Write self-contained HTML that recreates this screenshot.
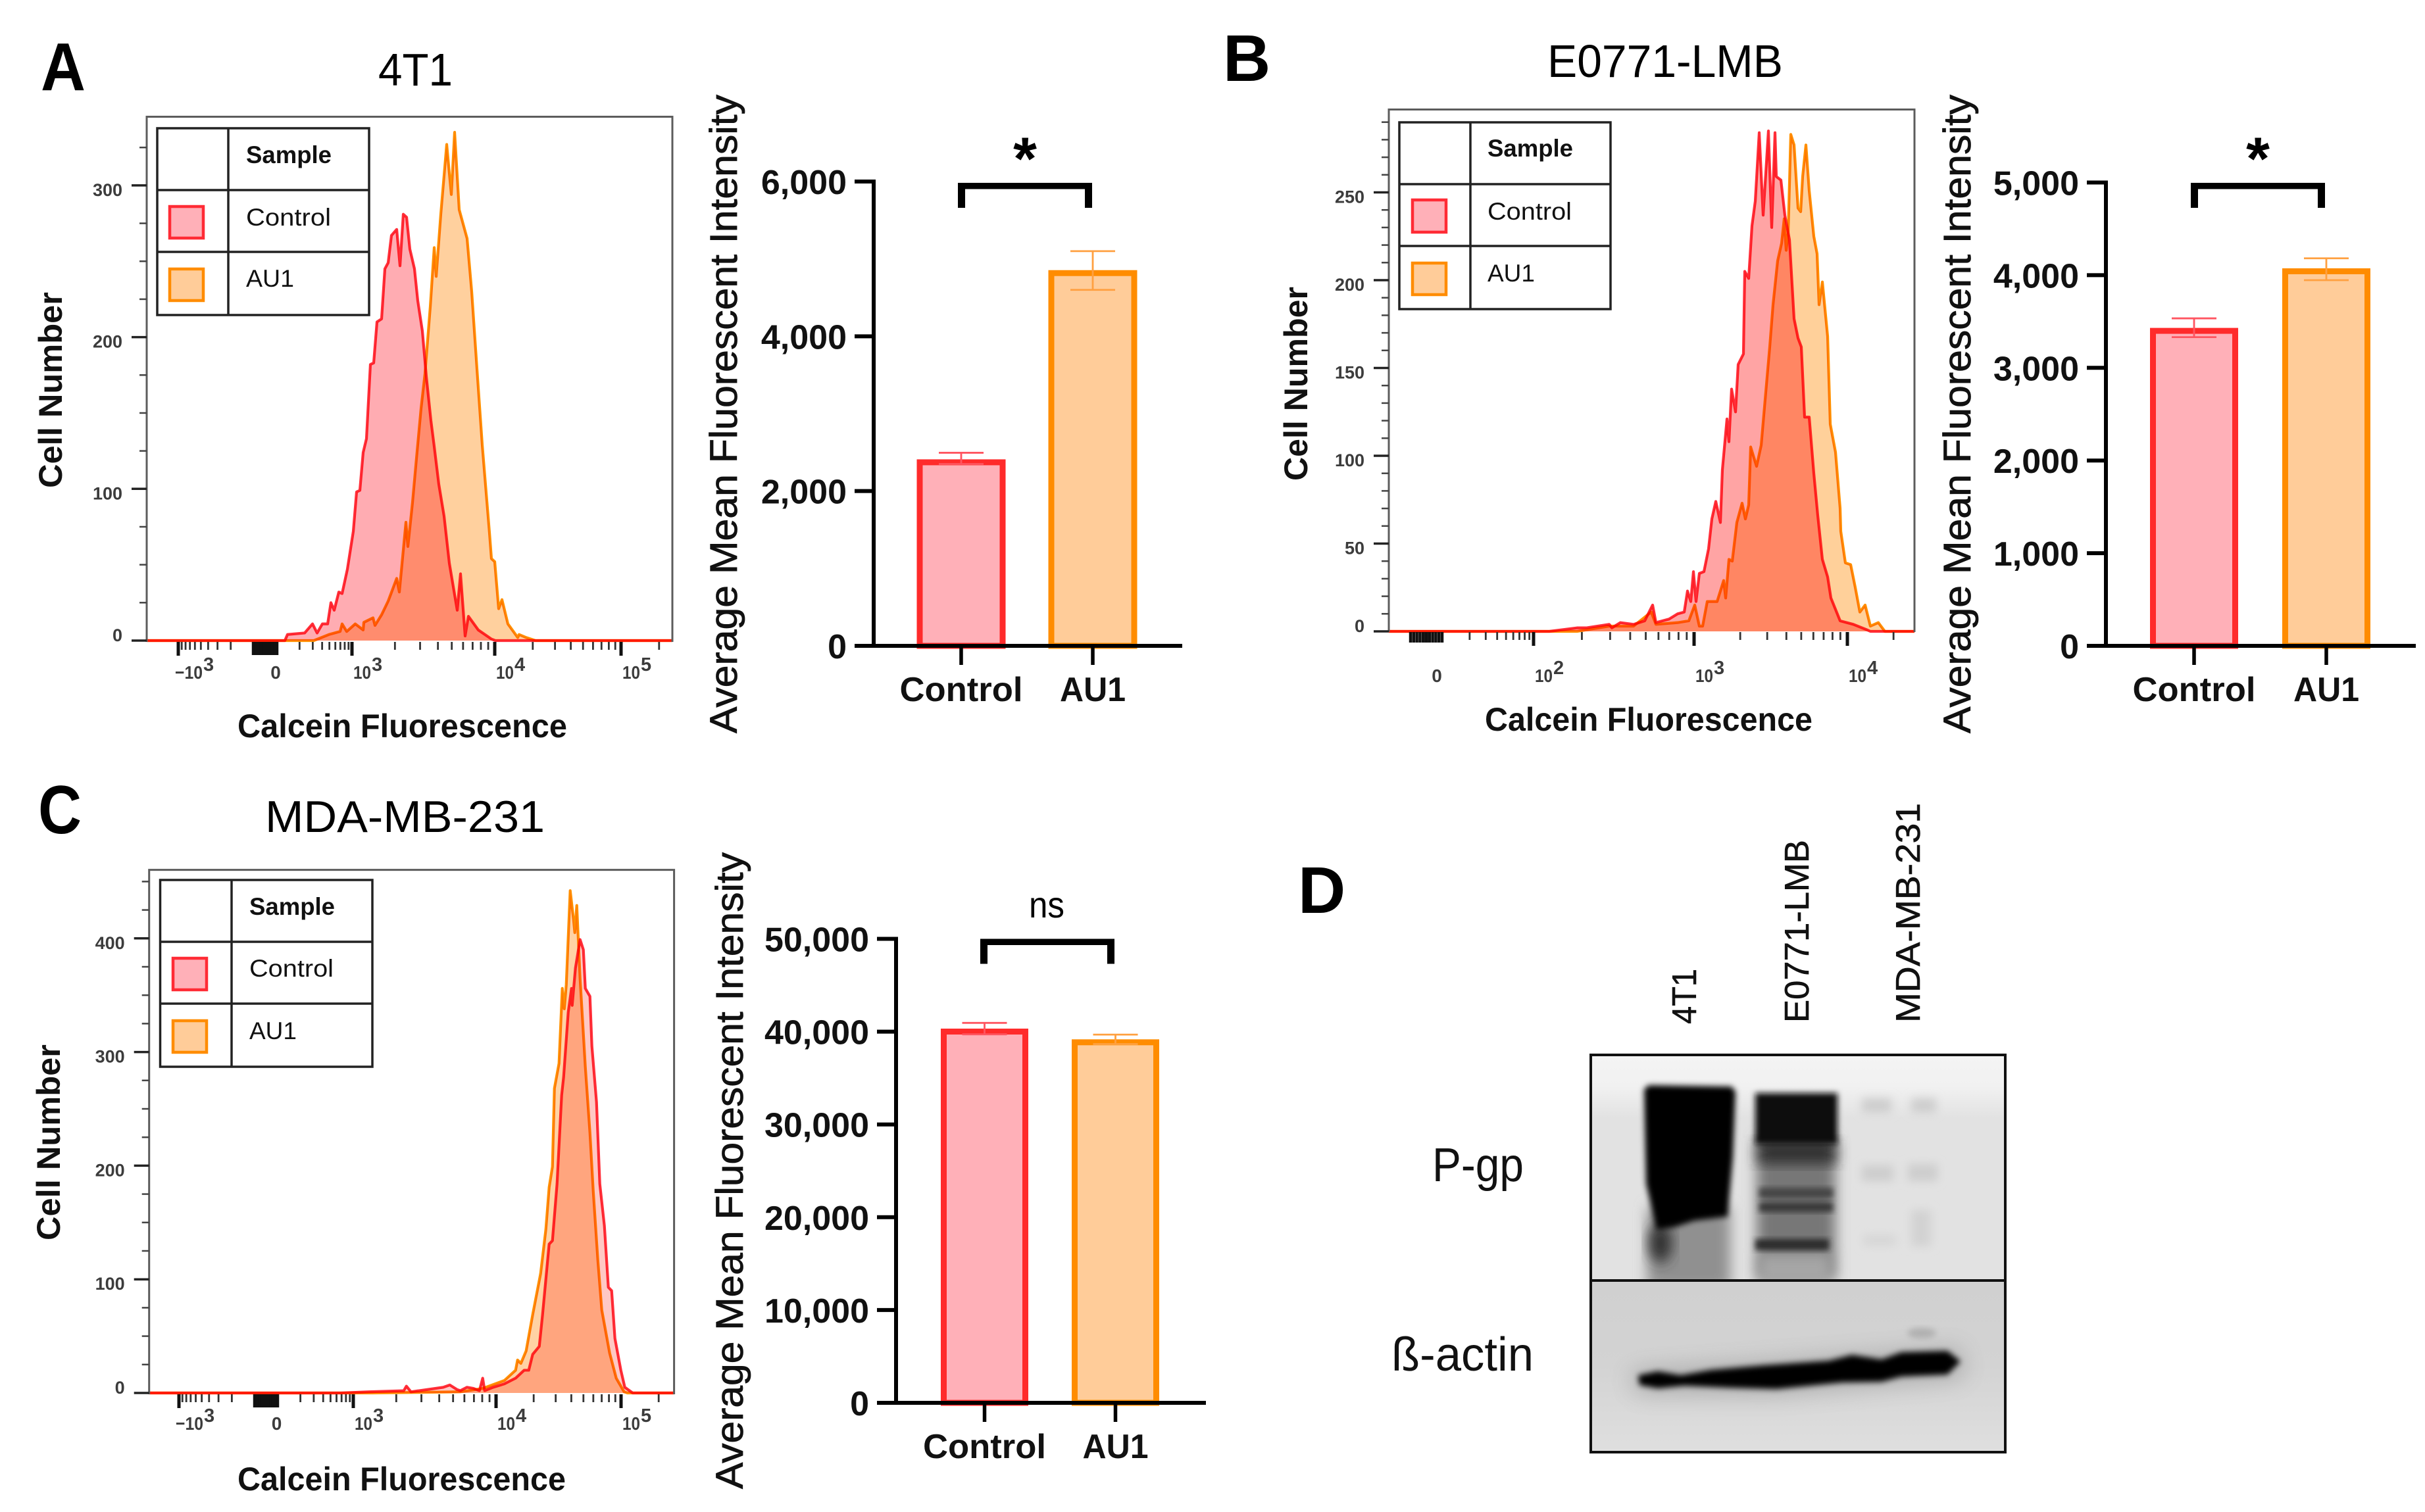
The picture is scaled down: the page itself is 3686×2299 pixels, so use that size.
<!DOCTYPE html>
<html lang="en">
<head>
<meta charset="utf-8">
<title>Calcein fluorescence and P-gp expression figure</title>
<style>
html,body{margin:0;padding:0;background:#fff}
svg{display:block}
text{font-family:"Liberation Sans",sans-serif}
</style>
</head>
<body>
<svg id="figure" xmlns="http://www.w3.org/2000/svg" width="3686" height="2299" viewBox="0 0 3686 2299">
<defs>
<filter id="b2" x="-20%" y="-20%" width="140%" height="140%"><feGaussianBlur stdDeviation="2.5"/></filter>
<filter id="b4" x="-20%" y="-30%" width="140%" height="160%"><feGaussianBlur stdDeviation="4.5"/></filter>
<filter id="b7" x="-30%" y="-60%" width="160%" height="220%"><feGaussianBlur stdDeviation="7"/></filter>
<filter id="b10" x="-30%" y="-30%" width="160%" height="160%"><feGaussianBlur stdDeviation="10"/></filter>
<filter id="b18" x="-40%" y="-60%" width="180%" height="220%"><feGaussianBlur stdDeviation="18"/></filter>
<clipPath id="blot-top-clip"><rect x="2418" y="1604" width="630" height="343"/></clipPath>
<clipPath id="blot-bottom-clip"><rect x="2418" y="1947" width="630" height="261"/></clipPath>
<linearGradient id="blot-top-bg" x1="0" y1="0" x2="0" y2="1"><stop offset="0" stop-color="#f4f4f4"/><stop offset=".14" stop-color="#f1f1f1"/><stop offset=".28" stop-color="#e2e2e2"/><stop offset="1" stop-color="#e2e2e2"/></linearGradient>
<linearGradient id="blot-bottom-bg" x1="0" y1="0" x2="0" y2="1"><stop offset="0" stop-color="#d0d0d0"/><stop offset=".5" stop-color="#d3d3d3"/><stop offset="1" stop-color="#dfdfdf"/></linearGradient>
</defs>
<rect width="3686" height="2299" fill="#fff"/>

<g id="histA"></g>
<g id="histB"></g>
<g id="histC"></g>
<g id="barA"></g>
<g id="barB"></g>
<g id="barC"></g>

<text x="62" y="137" font-size="103" font-weight="700" textLength="68" lengthAdjust="spacingAndGlyphs">A</text>
<text x="1859" y="123" font-size="100" font-weight="700">B</text>
<text x="58" y="1267" font-size="104" font-weight="700" textLength="66" lengthAdjust="spacingAndGlyphs">C</text>
<text x="1973" y="1388" font-size="100" font-weight="700">D</text>

<text x="575" y="130" font-size="70" textLength="113" lengthAdjust="spacingAndGlyphs">4T1</text>
<text x="2352" y="117" font-size="70" textLength="358" lengthAdjust="spacingAndGlyphs">E0771-LMB</text>
<text x="403" y="1265" font-size="68" textLength="425" lengthAdjust="spacingAndGlyphs">MDA-MB-231</text>

<text x="361" y="1121" font-size="50" font-weight="700" fill="#111" textLength="501" lengthAdjust="spacingAndGlyphs">Calcein Fluorescence</text>
<text x="2257" y="1111" font-size="50" font-weight="700" fill="#111" textLength="498" lengthAdjust="spacingAndGlyphs">Calcein Fluorescence</text>
<text x="361" y="2266" font-size="50" font-weight="700" fill="#111" textLength="499" lengthAdjust="spacingAndGlyphs">Calcein Fluorescence</text>

<text transform="translate(94 742) rotate(-90)" font-size="50" font-weight="700" fill="#111" textLength="298" lengthAdjust="spacingAndGlyphs">Cell Number</text>
<text transform="translate(1987 731) rotate(-90)" font-size="50" font-weight="700" fill="#111" textLength="295" lengthAdjust="spacingAndGlyphs">Cell Number</text>
<text transform="translate(91 1886) rotate(-90)" font-size="50" font-weight="700" fill="#111" textLength="298" lengthAdjust="spacingAndGlyphs">Cell Number</text>

<text transform="translate(1120 1115) rotate(-90)" font-size="58" fill="#111" stroke="#111" stroke-width=".8" textLength="971" lengthAdjust="spacingAndGlyphs">Average Mean Fluorescent Intensity</text>
<text transform="translate(2995 1115) rotate(-90)" font-size="58" fill="#111" stroke="#111" stroke-width=".8" textLength="971" lengthAdjust="spacingAndGlyphs">Average Mean Fluorescent Intensity</text>
<text transform="translate(1129 2264) rotate(-90)" font-size="58" fill="#111" stroke="#111" stroke-width=".8" textLength="968" lengthAdjust="spacingAndGlyphs">Average Mean Fluorescent Intensity</text>

<text x="1558" y="273" font-size="92" font-weight="700" text-anchor="middle">*</text>
<text x="3432" y="273" font-size="92" font-weight="700" text-anchor="middle">*</text>
<text x="1564" y="1395" font-size="56" textLength="54" lengthAdjust="spacingAndGlyphs">ns</text>

<g fill="none" stroke="#222" stroke-width="3.5">
<rect x="239" y="195" width="322" height="284" fill="#fff"/>
<path d="M347 195V479M239 289H561M239 383H561"/>
<rect x="258" y="314" width="51" height="48" fill="#FFB0B8" stroke="#FF2B35" stroke-width="4.5"/>
<rect x="258" y="409" width="51" height="48" fill="#FFCC99" stroke="#FF8C00" stroke-width="4.5"/>
<g stroke="none" fill="#111" font-size="37">
<text x="374" y="248" font-weight="700" textLength="130" lengthAdjust="spacingAndGlyphs">Sample</text>
<text x="374" y="343" textLength="129" lengthAdjust="spacingAndGlyphs">Control</text>
<text x="374" y="436" textLength="73" lengthAdjust="spacingAndGlyphs">AU1</text>
</g></g>

<g fill="none" stroke="#222" stroke-width="3.5">
<rect x="2127" y="186" width="321" height="284" fill="#fff"/>
<path d="M2235 186V470M2127 280H2448M2127 374H2448"/>
<rect x="2147" y="304" width="51" height="49" fill="#FFB0B8" stroke="#FF2B35" stroke-width="4.5"/>
<rect x="2147" y="400" width="51" height="48" fill="#FFCC99" stroke="#FF8C00" stroke-width="4.5"/>
<g stroke="none" fill="#111" font-size="37">
<text x="2261" y="238" font-weight="700" textLength="130" lengthAdjust="spacingAndGlyphs">Sample</text>
<text x="2261" y="334" textLength="128" lengthAdjust="spacingAndGlyphs">Control</text>
<text x="2261" y="428" textLength="72" lengthAdjust="spacingAndGlyphs">AU1</text>
</g></g>

<g fill="none" stroke="#222" stroke-width="3.5">
<rect x="243.500" y="1338" width="322.500" height="284" fill="#fff"/>
<path d="M352 1338V1622M243.500 1432H566M243.500 1526H566"/>
<rect x="263" y="1457" width="51" height="48" fill="#FFB0B8" stroke="#FF2B35" stroke-width="4.5"/>
<rect x="263" y="1552" width="51" height="48" fill="#FFCC99" stroke="#FF8C00" stroke-width="4.5"/>
<g stroke="none" fill="#111" font-size="37">
<text x="379" y="1391" font-weight="700" textLength="130" lengthAdjust="spacingAndGlyphs">Sample</text>
<text x="379" y="1485" textLength="128" lengthAdjust="spacingAndGlyphs">Control</text>
<text x="379" y="1580" textLength="72" lengthAdjust="spacingAndGlyphs">AU1</text>
</g></g>

<g>
<text transform="translate(2578 1557) rotate(-90)" font-size="52" fill="#111" stroke="#111" stroke-width=".6" textLength="84" lengthAdjust="spacingAndGlyphs">4T1</text>
<text transform="translate(2749 1555) rotate(-90)" font-size="52" fill="#111" stroke="#111" stroke-width=".6" textLength="278" lengthAdjust="spacingAndGlyphs">E0771-LMB</text>
<text transform="translate(2918 1555) rotate(-90)" font-size="52" fill="#111" stroke="#111" stroke-width=".6" textLength="334" lengthAdjust="spacingAndGlyphs">MDA-MB-231</text>
<text x="2177" y="1796" font-size="72" fill="#111" textLength="139" lengthAdjust="spacingAndGlyphs">P-gp</text>
<text x="2115" y="2084" font-size="72" fill="#111" textLength="216" lengthAdjust="spacingAndGlyphs">ß-actin</text>

<g clip-path="url(#blot-top-clip)">
<rect x="2418" y="1604" width="630" height="343" fill="url(#blot-top-bg)"/>
<g>
<rect x="2504" y="1835" width="126" height="125" fill="#909090" filter="url(#b10)"/>
<ellipse cx="2524" cy="1890" rx="18" ry="30" fill="#303030" filter="url(#b10)"/>
<polygon points="2499,1656 2506,1650 2632,1652 2638,1660 2634,1760 2626,1850 2575,1856 2545,1866 2518,1870 2502,1800" fill="#020202" filter="url(#b4)"/>
</g>
<g>
<rect x="2670" y="1730" width="120" height="215" fill="#777" filter="url(#b10)"/>
<rect x="2672" y="1905" width="112" height="50" fill="#a6a6a6" filter="url(#b10)"/>
<rect x="2672" y="1735" width="118" height="35" fill="#303030" filter="url(#b10)"/>
<rect x="2668" y="1662" width="125" height="78" fill="#0a0a0a" filter="url(#b4)"/>
<rect x="2674" y="1806" width="112" height="16" fill="#444" filter="url(#b4)"/>
<rect x="2674" y="1828" width="112" height="15" fill="#383838" filter="url(#b4)"/>
<rect x="2668" y="1884" width="112" height="17" fill="#2c2c2c" filter="url(#b4)"/>
</g>
<g fill="#cdcdcd" filter="url(#b7)">
<rect x="2830" y="1670" width="45" height="22"/>
<rect x="2905" y="1670" width="38" height="22"/>
<rect x="2830" y="1772" width="48" height="24"/>
<rect x="2900" y="1770" width="45" height="26"/>
<rect x="2905" y="1840" width="30" height="55" fill="#d2d2d2"/>
<rect x="2832" y="1878" width="50" height="16" fill="#d6d6d6"/>
</g>
</g>

<g clip-path="url(#blot-bottom-clip)">
<rect x="2418" y="1947" width="630" height="261" fill="url(#blot-bottom-bg)"/>
<polygon points="2480,2085 2700,2070 2980,2050 2985,2095 2700,2120 2485,2118" fill="#7a7a7a" opacity=".45" filter="url(#b18)"/>
<ellipse cx="2921" cy="2027" rx="22" ry="8" fill="#b0b0b0" filter="url(#b4)"/>
<polygon points="2490,2091 2520,2085 2555,2091 2600,2083 2680,2076 2780,2069 2815,2060 2860,2067 2890,2056 2960,2054 2980,2070 2960,2090 2890,2093 2860,2101 2800,2102 2700,2112 2630,2110 2560,2107 2520,2111 2492,2106" fill="#020202" filter="url(#b4)"/>
</g>
<rect x="2418" y="1604" width="630" height="604" fill="none" stroke="#111" stroke-width="4"/>
<line x1="2418" y1="1947" x2="3048" y2="1947" stroke="#111" stroke-width="4"/>
</g>

<script>
// ---- Panel A histogram data (channel, cell count) ----
const histAControlChannel = [210,214,240,252,259,267,275,280,285,292,297,305,314,319,324,329,334,340,345,350,357,362,367,372,380,385,390,395,400,407,412,419,425,432,437,444,452,460,472,477,484,489,504,524,530];
const histAControlCount = [0,4,5,11,5,11,11,25,20,32,31,47,72,98,99,124,133,182,183,210,212,245,249,267,271,247,281,279,258,245,224,204,174,145,128,103,82,51,20,44,3,16,7,1,0];
const histAAu1Channel = [254,277,294,297,304,317,329,330,344,347,357,367,380,384,394,397,404,410,417,423,431,437,440,447,456,463,468,475,487,494,502,510,521,524,529,535,540,549,564,566,577,591];
const histAAu1Count = [0,4,6,11,6,11,7,12,15,10,17,26,41,32,78,62,91,120,153,176,220,259,240,281,327,294,335,284,265,230,179,129,71,54,52,21,27,11,2,4,2,0];
const histAYTicks = [0,100,200,300];
const histAXTicks = [-1000,0,1000,10000,100000];

// ---- Panel B histogram data ----
const histBControlChannel = [244,286,300,335,339,352,372,389,401,406,426,439,449,454,459,463,467,472,479,486,491,497,504,507,514,517,521,527,531,539,541,547,552,557,563,569,577,582,587,589,596,602,609,616,622,627,632,639,646,652,659,667,672,686,706,726,732];
const histBControlCount = [0,2,2,4,2,5,4,6,15,5,7,10,11,23,17,34,17,33,34,47,64,74,62,92,121,108,138,125,152,158,205,201,231,245,284,237,285,230,284,259,257,237,223,178,167,162,122,122,90,66,41,31,19,6,4,1,0];
const histBAu1Channel = [286,335,372,392,399,406,439,456,465,472,477,484,499,509,512,517,522,529,537,542,547,550,559,566,572,579,584,591,597,601,604,607,611,616,622,626,629,634,639,646,651,654,659,667,671,679,686,687,694,702,709,716,724,732,744,754];
const histBAu1Count = [0,3,3,9,11,4,5,6,15,3,3,17,17,29,19,41,40,62,73,64,72,105,94,106,132,162,186,211,221,235,217,227,283,277,241,239,259,277,251,225,215,186,199,168,118,102,70,57,39,38,25,11,15,3,5,0];
const histBYTicks = [0,50,100,150,200,250];
const histBXTicks = [0,100,1000,10000];

// ---- Panel C histogram data ----
const histCControlChannel = [292,334,387,391,398,447,457,468,473,483,493,502,507,510,523,540,557,570,577,583,593,598,608,613,620,627,630,637,642,643,648,655,660,663,670,673,680,685,692,698,703,708,717,723,735];
const histCControlCount = [0,1,2,6,1,5,7,3,2,5,4,2,13,2,5,8,13,20,20,34,41,69,131,134,184,262,278,335,356,341,374,399,390,356,349,305,256,184,147,93,90,48,20,5,0];
const histCAu1Channel = [340,473,507,540,557,560,565,573,583,595,603,608,613,616,623,628,631,634,640,645,647,650,655,663,670,675,682,688,700,710,722,727];
const histCAu1Count = [0,1,4,11,20,29,26,37,69,105,144,181,199,268,290,356,338,359,442,417,405,429,365,287,229,178,117,73,35,13,1,0];
const histCYTicks = [0,100,200,300,400];
const histCXTicks = [-1000,0,1000,10000,100000];

// ---- Bar chart data ----
const barACategories = ['Control','AU1'];
const barAValues = [2410,4855];
const barAErrorHigh = [2495,5100];
const barAErrorLow = [2350,4600];
const barAYTicks = [0,2000,4000,6000];
const barAYLabels = ['0','2,000','4,000','6,000'];

const barBCategories = ['Control','AU1'];
const barBValues = [3431,4074];
const barBErrorHigh = [3534,4182];
const barBErrorLow = [3331,3946];
const barBYTicks = [0,1000,2000,3000,4000,5000];
const barBYLabels = ['0','1,000','2,000','3,000','4,000','5,000'];

const barCCategories = ['Control','AU1'];
const barCValues = [40326,39170];
const barCErrorHigh = [40940,39680];
const barCErrorLow = [39710,38660];
const barCYTicks = [0,10000,20000,30000,40000,50000];
const barCYLabels = ['0','10,000','20,000','30,000','40,000','50,000'];

const NS = 'http://www.w3.org/2000/svg';
function make(tag, attrs, parent){
  const el = document.createElementNS(NS, tag);
  for (const k in attrs) el.setAttribute(k, attrs[k]);
  if (parent) parent.appendChild(el);
  return el;
}

// Biexponential-style flow cytometry axis: logarithmic above the anchors,
// compressed cluster around zero, mirrored for negative values.
function flowAxis(cfg){
  const a = cfg.anchors;
  function pos(v){
    if (v < a[0][0]) return cfg.zero + (a[0][1]-cfg.zero)*v/a[0][0];
    let i = 0;
    while (i < a.length-2 && v > a[i+1][0]) i++;
    const f = (Math.log10(v)-Math.log10(a[i][0]))/(Math.log10(a[i+1][0])-Math.log10(a[i][0]));
    return a[i][1]+f*(a[i+1][1]-a[i][1]);
  }
  return v => v === 0 ? cfg.zero : v > 0 ? pos(v) : 2*cfg.zero-pos(-v);
}

function seriesPaths(xs, ys, cfg, X, Y){
  let line = 'M' + cfg.left + ' ' + Y(0);
  let area = 'M' + X(xs[0]) + ' ' + Y(0);
  xs.forEach((c,i) => {
    line += 'L' + X(c) + ' ' + Y(ys[i]);
    area += 'L' + X(c) + ' ' + Y(ys[i]);
  });
  line += 'L' + cfg.right + ' ' + Y(0);
  area += 'L' + X(xs[xs.length-1]) + ' ' + Y(0) + 'Z';
  return {line, area};
}

function drawHistogram(cfg){
  const g = document.getElementById(cfg.id);
  const X = c => cfg.left + c;
  const Y = c => cfg.y0 - c*cfg.pxPerCount;
  const V = flowAxis(cfg);

  const bg = make('rect', {x:cfg.left,y:cfg.top,width:cfg.right-cfg.left,height:cfg.bottom-cfg.top,fill:'#fff'}, g);
  
  

  const plot = make('g', {style:'isolation:isolate'}, g);
  
  
  const ctrl = seriesPaths(cfg.controlX, cfg.controlY, cfg, X, Y);
  const au = seriesPaths(cfg.au1X, cfg.au1Y, cfg, X, Y);

  const ctrlFill = make('path', {d:ctrl.area, fill:cfg.controlFill, style:'mix-blend-mode:multiply'}, plot);
  
  
  const ctrlLine = make('path', {d:ctrl.line, fill:'none', stroke:'#FF2F3A', 'stroke-width':4.2, 'stroke-linejoin':'round', style:'mix-blend-mode:multiply'}, plot);
  
  
  const auFill = make('path', {d:au.area, fill:cfg.au1Fill, style:'mix-blend-mode:multiply'}, plot);
  
  
  const auLine = make('path', {d:au.line, fill:'none', stroke:'#FF9000', 'stroke-width':4.2, 'stroke-linejoin':'round', style:'mix-blend-mode:multiply'}, plot);
  
  

  const frame = make('path', {d:'M'+cfg.left+' '+cfg.bottom+'V'+cfg.top+'H'+cfg.right+'V'+cfg.bottom, fill:'none', stroke:'#5c5c5c', 'stroke-width':3}, g);
  
  

  // y axis
  for (let v = cfg.yMinor; v <= cfg.yMax; v += cfg.yMinor){
    if (cfg.yTicks.includes(v)) continue;
    const t = make('line', {x1:cfg.left-11,x2:cfg.left,y1:Y(v),y2:Y(v),stroke:'#444','stroke-width':2.5}, g);
    
    
  }
  cfg.yTicks.forEach(v => {
    const t = make('line', {x1:cfg.left-23,x2:cfg.left,y1:Y(v),y2:Y(v),stroke:'#222','stroke-width':3.5}, g);
    
    
    const lab = make('text', {x:cfg.left-37,y:Y(v)+(v===0?1:16),'text-anchor':'end','font-size':27,'font-weight':700,fill:'#3c3c3c'}, g);
    lab.textContent = String(v);
    
    
  });

  // x axis minor ticks
  const minors = [];
  const firstDec = Math.round(Math.log10(cfg.anchors[0][0]));
  const lastDec = Math.round(Math.log10(cfg.anchors[cfg.anchors.length-1][0]));
  for (let d = firstDec; d <= lastDec; d++){
    for (let m = 1; m <= 9; m++){
      const v = m*Math.pow(10,d);
      minors.push(v);
      if (v < cfg.negLimit) minors.push(-v);
    }
  }
  [.2,.4,.6,.8].forEach(f => {
    minors.push(f*cfg.anchors[0][0]);
    minors.push(-f*cfg.anchors[0][0]);
  });
  minors.forEach(v => {
    const px = V(v);
    if (px <= cfg.left+2 || px >= cfg.right-2 || cfg.xTicks.includes(v)) return;
    const inCluster = Math.abs(v) <= cfg.anchors[0][0];
    const t = make('line', {x1:px,x2:px,y1:cfg.bottom,y2:cfg.bottom+(inCluster?cfg.clusterLen:12),stroke:inCluster?'#111':'#333','stroke-width':inCluster?4.5:2.8}, g);
    
    
  });

  // x axis major ticks and labels
  cfg.xTicks.forEach(v => {
    const px = V(v);
    const t = make('line', {x1:px,x2:px,y1:cfg.bottom,y2:cfg.bottom+(v===0?cfg.clusterLen:21),stroke:'#111','stroke-width':5}, g);
    
    
    const exp = v === 0 ? 0 : Math.round(Math.log10(Math.abs(v)));
    if (v === 0){
      const z = make('text', {x:px+16,y:cfg.labelY,'text-anchor':'middle','font-size':28,'font-weight':700,fill:'#3c3c3c'}, g);
      z.textContent = '0';
      
      
      return;
    }
    const neg = v < 0;
    const start = neg ? px-5 : px+2;
    const w = neg ? 42 : 27;
    const b = make('text', {x:start,y:cfg.labelY,'font-size':28,'font-weight':700,fill:'#3c3c3c',textLength:w,lengthAdjust:'spacingAndGlyphs'}, g);
    b.textContent = (neg ? '\u2212' : '') + '10';
    
    
    const s = make('text', {x:start+w+1,y:cfg.labelY-12,'font-size':29,'font-weight':700,fill:'#3c3c3c'}, g);
    s.textContent = String(exp);
    
    
  });
}

function drawBarChart(cfg){
  const g = document.getElementById(cfg.id);
  const Y = v => cfg.y0 - v/cfg.yMax*(cfg.y0-cfg.yTop);
  const cx = i => cfg.firstCenter + i*cfg.step;
  const strokes = ['#FF2B2B','#FF8C00'];
  const fills = ['#FFB0B8','#FFCC99'];
  const errs = ['#FF5560','#FFA040'];

  cfg.categories.forEach((name,i) => {
    const top = Y(cfg.values[i]);
    const bar = make('rect', {x:cx(i)-cfg.barW/2+4.500,y:top+4.500,width:cfg.barW-9,height:cfg.y0-top-4.500,fill:fills[i],stroke:strokes[i],'stroke-width':9}, g);
    
    
    const err = make('path', {d:'M'+(cx(i)-34)+' '+Y(cfg.errHigh[i])+'H'+(cx(i)+34)+'M'+cx(i)+' '+Y(cfg.errHigh[i])+'V'+Y(cfg.errLow[i])+'M'+(cx(i)-34)+' '+Y(cfg.errLow[i])+'H'+(cx(i)+34),fill:'none',stroke:errs[i],'stroke-width':2.8}, g);
    
    
    const tick = make('line', {x1:cx(i),x2:cx(i),y1:cfg.y0,y2:cfg.y0+29,stroke:'#000','stroke-width':5.5}, g);
    
    
    const lab = make('text', {x:cx(i),y:cfg.catY,'text-anchor':'middle','font-size':52,'font-weight':700,fill:'#111',textLength:i===0?187:100,lengthAdjust:'spacingAndGlyphs'}, g);
    lab.textContent = name;
    
    
  });

  const yAxis = make('line', {x1:cfg.axisX,x2:cfg.axisX,y1:cfg.yTop-3,y2:cfg.y0+3,stroke:'#000','stroke-width':6}, g);
  
  
  const xAxis = make('line', {x1:cfg.axisX-29,x2:cfg.xEnd,y1:cfg.y0,y2:cfg.y0,stroke:'#000','stroke-width':6}, g);
  
  

  cfg.yTicks.forEach((v,i) => {
    const t = make('line', {x1:cfg.axisX-29,x2:cfg.axisX,y1:Y(v),y2:Y(v),stroke:'#000','stroke-width':6}, g);
    
    
    const lab = make('text', {x:cfg.axisX-41,y:Y(v)+19,'text-anchor':'end','font-size':52,'font-weight':700,fill:'#111'}, g);
    lab.textContent = cfg.yLabels[i];
    
    
  });

  const L = cfg.bracket[0], R = cfg.bracket[1], T = cfg.bracketY, H = 38, EW = 11, HW = 9.5;
  const br = make('path', {d:'M'+L+' '+T+'H'+R+'V'+(T+H)+'H'+(R-EW)+'V'+(T+HW)+'H'+(L+EW)+'V'+(T+H)+'H'+L+'Z',fill:'#000'}, g);
  
  
}

drawHistogram({id:'histA',left:223,right:1022,top:177.500,bottom:976,y0:974,pxPerCount:2.307,yTicks:histAYTicks,yMinor:25,yMax:325,
  xTicks:histAXTicks,anchors:[[100,421],[1000,535],[10000,752],[100000,944],[1000000,1136]],zero:403,negLimit:1001,clusterLen:20,labelY:1032,
  controlX:histAControlChannel,controlY:histAControlCount,au1X:histAAu1Channel,au1Y:histAAu1Count,controlFill:'#FFACB2',au1Fill:'#FFD09E'});
drawHistogram({id:'histB',left:2111,right:2910,top:166.500,bottom:961,y0:960,pxPerCount:2.67,yTicks:histBYTicks,yMinor:10,yMax:290,
  xTicks:histBXTicks,anchors:[[10,2192],[100,2331],[1000,2575],[10000,2808],[100000,3041]],zero:2168,negLimit:11,clusterLen:16,labelY:1037,
  controlX:histBControlChannel,controlY:histBControlCount,au1X:histBAu1Channel,au1Y:histBAu1Count,controlFill:'#FFA4A4',au1Fill:'#FFD09A'});
drawHistogram({id:'histC',left:226.700,right:1024.600,top:1322.600,bottom:2120,y0:2118,pxPerCount:1.728,yTicks:histCYTicks,yMinor:25,yMax:450,
  xTicks:histCXTicks,anchors:[[100,422],[1000,537],[10000,754],[100000,944],[1000000,1134]],zero:404.500,negLimit:1001,clusterLen:20,labelY:2174,
  controlX:histCControlChannel,controlY:histCControlCount,au1X:histCAu1Channel,au1Y:histCAu1Count,controlFill:'#FFC8C4',au1Fill:'#FFD2A4'});

drawBarChart({id:'barA',categories:barACategories,values:barAValues,errHigh:barAErrorHigh,errLow:barAErrorLow,yTicks:barAYTicks,yLabels:barAYLabels,
  yMax:6000,y0:982,yTop:276,axisX:1328,xEnd:1797,firstCenter:1461,step:200,barW:135,catY:1066,bracket:[1456,1660],bracketY:278});
drawBarChart({id:'barB',categories:barBCategories,values:barBValues,errHigh:barBErrorHigh,errLow:barBErrorLow,yTicks:barBYTicks,yLabels:barBYLabels,
  yMax:5000,y0:982,yTop:277.500,axisX:3201,xEnd:3672,firstCenter:3335,step:201,barW:134,catY:1066,bracket:[3330,3534],bracketY:278});
drawBarChart({id:'barC',categories:barCCategories,values:barCValues,errHigh:barCErrorHigh,errLow:barCErrorLow,yTicks:barCYTicks,yLabels:barCYLabels,
  yMax:50000,y0:2133,yTop:1427.500,axisX:1362,xEnd:1833,firstCenter:1496.500,step:199,barW:133,catY:2217,bracket:[1490,1694],bracketY:1427.500});
</script>
</svg>
</body>
</html>
